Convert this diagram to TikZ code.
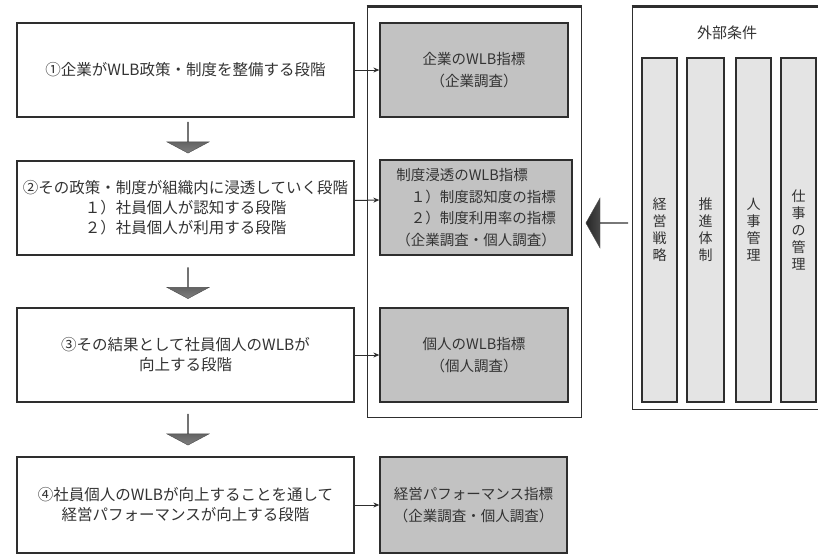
\documentclass[tikz,border=0pt]{standalone}
\usepackage{fontspec}
\setmainfont{Noto Sans CJK JP}
\usetikzlibrary{shapes.arrows,arrows.meta}
\definecolor{boxgray}{HTML}{C2C2C2}
\definecolor{colgray}{HTML}{E4E4E4}
\definecolor{linedark}{HTML}{2E2E2E}
\definecolor{txt}{HTML}{333333}
\begin{document}
\begin{tikzpicture}[x=1pt,y=-1pt,
  stagebox/.style={draw=linedark, line width=1.3pt, fill=white, minimum width=337pt,
    align=center, inner sep=0pt, text=txt, font=\fontsize{15.5}{20}\selectfont},
  indbox/.style={draw=linedark, line width=1.3pt, fill=boxgray, align=center,
    inner sep=0pt, text=txt, font=\fontsize{14.5}{22}\selectfont},
  holder/.style={draw=linedark, line width=1pt, inner sep=0pt},
  factor/.style={draw=linedark, line width=1.1pt, fill=colgray, minimum width=35pt,
    minimum height=344pt, inner sep=0pt, align=center, text=txt,
    font=\fontsize{14}{17}\selectfont},
  downarrow/.style={single arrow, rotate=-90, draw=black!70, line width=0.4pt,
    top color=black!80, bottom color=black!50, minimum height=31pt, minimum width=42pt,
    single arrow head extend=13.5pt, single arrow tip angle=124, inner sep=0pt},
  conn/.style={draw=linedark, line width=1pt, -{Stealth[length=6pt,width=5pt]}}
]
\useasboundingbox (0,0) rectangle (818,554);
\fill[white] (0,0) rectangle (818,554);

% middle holder
\node[holder, minimum width=214pt, minimum height=410pt] (MC) at (474,212) {};
\draw[linedark, line width=3pt] (MC.north west) -- (MC.north east);

% right holder
\node[holder, minimum width=200pt, minimum height=402pt] (RC) at (732,208) {};
\draw[linedark, line width=3pt] (RC.north west) -- (RC.north east);
\node[text=txt, font=\fontsize{15}{18}\selectfont] (RT) at (727,33) {外部条件};

% factor columns
\node[factor] (F1) at (659.5,230) {経\\営\\戦\\略};
\node[factor, minimum width=37pt] (F2) at (705.5,230) {推\\進\\体\\制};
\node[factor] (F3) at (753.5,230) {人\\事\\管\\理};
\node[factor] (F4) at (798.5,230) {仕\\事\\の\\管\\理};

% stage boxes
\node[stagebox, minimum height=94pt] (L1) at (185.5,70) {①企業がWLB政策・制度を整備する段階};
\node[stagebox, minimum height=94pt] (L2) at (185.5,208) {②その政策・制度が組織内に浸透していく段階\\１）社員個人が認知する段階\\２）社員個人が利用する段階};
\node[stagebox, minimum height=94pt] (L3) at (185.5,355) {③その結果として社員個人のWLBが\\向上する段階};
\node[stagebox, minimum height=96pt] (L4) at (185.5,505) {④社員個人のWLBが向上することを通して\\経営パフォーマンスが向上する段階};

% indicator boxes
\node[indbox, minimum width=188pt, minimum height=94pt] (M1) at (474,70) {企業のWLB指標\\（企業調査）};
\node[indbox, minimum width=192pt, minimum height=95pt, align=left,
  font=\fontsize{14.5}{21.5}\selectfont] (M2) at (476,207.5) {制度浸透のWLB指標\\\hspace*{1em}１）制度認知度の指標\\\hspace*{1em}２）制度利用率の指標\\（企業調査・個人調査）};
\node[indbox, minimum width=188pt, minimum height=94pt] (M3) at (474,355) {個人のWLB指標\\（個人調査）};
\node[indbox, minimum width=187pt, minimum height=96pt] (M4) at (473.5,505) {経営パフォーマンス指標\\（企業調査・個人調査）};

% connectors
\draw[conn] (L1.east) -- (M1.west);
\draw[conn] ([yshift=7.5pt]L2.east) -- ([yshift=7.5pt]M2.west);
\draw[conn] (L3.east) -- (M3.west);
\draw[conn] (L4.east) -- (M4.west);

% block arrows
\node[downarrow] (A1) at (188,137.5) {};
\node[downarrow] (A2) at (188,283) {};
\node[downarrow] (A3) at (188,429.5) {};
\node[single arrow, rotate=180, draw=black!70, line width=0.4pt,
  left color=black!85, right color=black!45, minimum height=42pt, minimum width=50pt,
  single arrow head extend=11.5pt, single arrow tip angle=121, inner sep=0pt] (AL) at (607,223) {};
\end{tikzpicture}
\end{document}
